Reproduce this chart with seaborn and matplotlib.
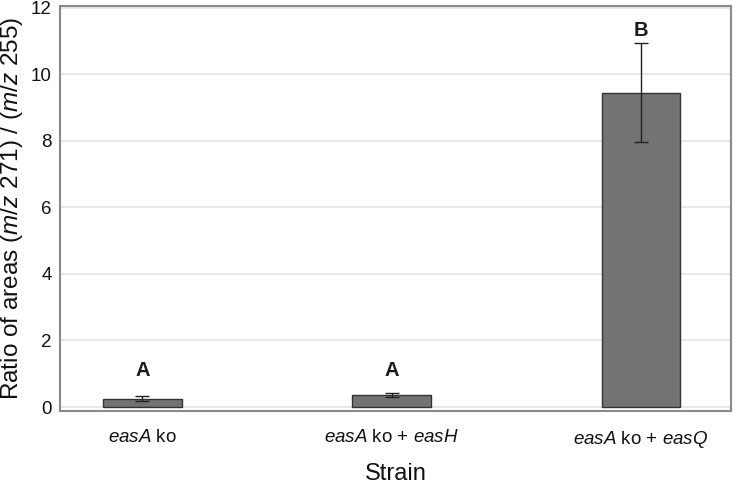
import matplotlib
matplotlib.use("Agg")
import matplotlib.pyplot as plt
import seaborn as sns
import pandas as pd

strains = [r"$\it{easA}$ ko", r"$\it{easA}$ ko + $\it{easH}$", r"$\it{easA}$ ko + $\it{easQ}$"]
means = [0.25, 0.37, 9.44]
errors = [0.07, 0.06, 1.48]
letters = ["A", "A", "B"]
letter_y = [1.1, 1.1, 11.3]
yticks = [0, 2, 4, 6, 8, 10, 12]

sns.set_theme(style="white")
plt.rcParams["font.family"] = ["Liberation Sans", "DejaVu Sans"]
plt.rcParams["mathtext.fontset"] = "custom"
plt.rcParams["mathtext.rm"] = "Liberation Sans"
plt.rcParams["mathtext.it"] = "Liberation Sans:italic"
plt.rcParams["mathtext.bf"] = "Liberation Sans:bold"

df = pd.DataFrame({"strain": strains, "value": means})

fig = plt.figure(figsize=(7.33, 4.87), dpi=100)
ax = fig.add_axes([0.082, 0.156, 0.915, 0.832])
ax.set_axisbelow(True)
ax.yaxis.grid(True, color="#e3e3e3", linewidth=1.2)
sns.barplot(data=df, x="strain", y="value", ax=ax, color="#737373", saturation=1,
            width=0.316, edgecolor="#333333", linewidth=1.0)
xs = ax.get_xticks()
ax.errorbar(xs, means, yerr=errors, fmt="none", ecolor="#222222", elinewidth=1.0,
            capsize=5, capthick=1.0)
for x, t, yy in zip(xs, letters, letter_y):
    ax.text(x, yy, t, ha="center", va="center", fontsize=14.5, fontweight="bold", color="#1a1a1a")

ax.set_xlim(-0.33, 2.36)
ax.set_ylim(-0.12, 12.05)
ax.set_yticks(yticks)
ax.set_yticklabels([str(v) for v in yticks])
ax.tick_params(axis="both", length=0, labelsize=13.5, colors="#111111")
ax.tick_params(axis="x", pad=13)
ax.tick_params(axis="y", pad=6)
ax.set_xlabel("Strain", fontsize=17, labelpad=9, color="#111111")
ax.set_ylabel(r"Ratio of areas ($\it{m/z}$ 271) / ($\it{m/z}$ 255)", fontsize=17.5, labelpad=4, color="#111111")
for s in ax.spines.values():
    s.set_color("#8a8a8a")
    s.set_linewidth(1.5)

fig.savefig("out.png", dpi=100)
